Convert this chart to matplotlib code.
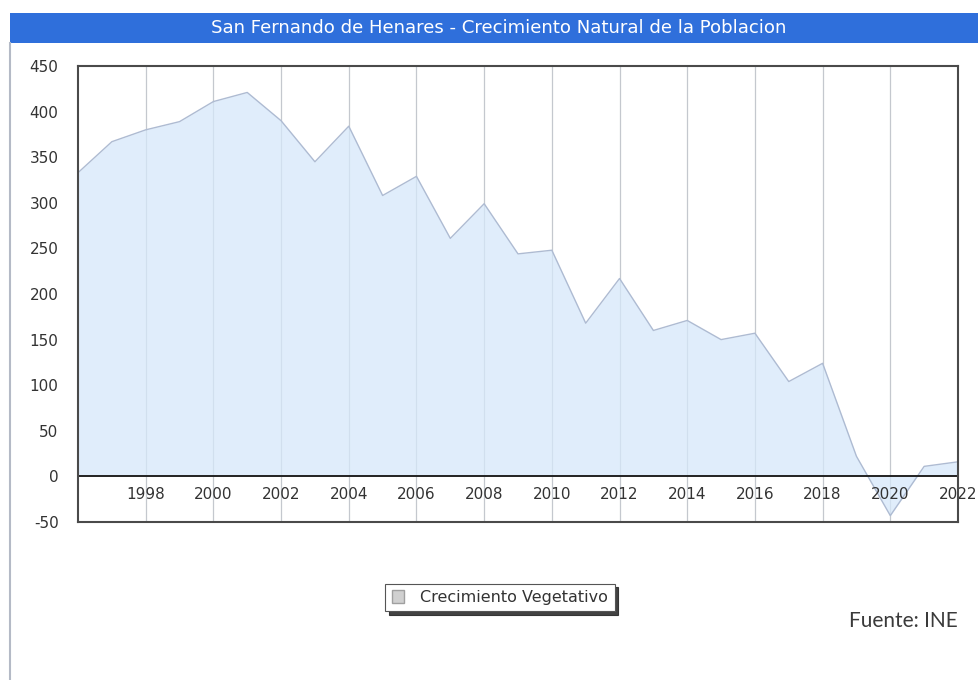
import matplotlib
matplotlib.use("Agg")
import matplotlib.pyplot as plt
from matplotlib.patches import Rectangle, Patch
from matplotlib.lines import Line2D

years = list(range(1996, 2023))
crecimiento = [333, 367, 380, 389, 411, 421, 390, 345, 384, 308, 329, 261, 299, 244,
               248, 168, 217, 160, 171, 150, 157, 104, 124, 22, -43, 11, 16]
xtick_years = list(range(1998, 2023, 2))
yticks = list(range(-50, 451, 50))
title = "San Fernando de Henares - Crecimiento Natural de la Poblacion"
series_label = "Crecimiento Vegetativo"
source = "Fuente: INE"

W, H = 979, 680
fig = plt.figure(figsize=(W / 100, H / 100), dpi=100)
fig.patch.set_facecolor("white")

# title bar
fig.patches.append(Rectangle((10 / W, 1 - 43 / H), 1 - 10 / W, 30 / H,
                             transform=fig.transFigure, facecolor="#2F6FDB",
                             edgecolor="none", zorder=0))
fig.text(0.509, 1 - 28 / H, title, color="white", ha="center", va="center",
         fontsize=13.1, fontfamily="DejaVu Sans")
# left border
fig.lines.append(Line2D([10 / W, 10 / W], [0, 1 - 43 / H], transform=fig.transFigure,
                        color="#B4BAC6", lw=1.5))

ax = fig.add_axes([78 / W, 1 - 522 / H, 880 / W, 456 / H])
ax.set_xlim(1996, 2022)
ax.set_ylim(-50, 450)

for yr in xtick_years:
    ax.axvline(yr, color="#C4C8CE", lw=0.9, zorder=1)

ax.fill_between(years, crecimiento, 0, color="#D6E8FA", alpha=0.75, lw=0,
                zorder=2, label=series_label)
ax.plot(years, crecimiento, color="#AEBBD2", lw=1.0, zorder=3)
ax.axhline(0, color="#222222", lw=1.4, zorder=4)

ax.set_yticks(yticks)
ax.set_yticklabels([str(v) for v in yticks], fontsize=11, color="#333333",
                   fontfamily="DejaVu Sans")
ax.tick_params(axis="y", length=0, pad=14)
ax.set_xticks([])
for yr in xtick_years:
    ax.text(yr, -20, str(yr), ha="center", va="center", fontsize=11,
            color="#333333", zorder=3, clip_on=False, fontfamily="DejaVu Sans")

for s in ax.spines.values():
    s.set_color("#4A4A4A")
    s.set_linewidth(1.5)
    s.set_zorder(6)

handle = Patch(facecolor="#D0D0D0", edgecolor="#A0A0A0")
leg = fig.legend([handle], [series_label], loc="center",
                 bbox_to_anchor=(500 / W, 1 - 597.5 / H), bbox_transform=fig.transFigure,
                 prop={"family": "DejaVu Sans", "size": 11.5},
                 frameon=True, fancybox=False,
                 shadow={"color": "#222222", "alpha": 0.85, "ox": 2.5, "oy": -2.5},
                 handlelength=0.8, handleheight=0.8, handletextpad=1.0,
                 borderpad=0.4, borderaxespad=0)
leg.get_frame().set_edgecolor("#555555")
leg.get_frame().set_linewidth(0.8)
for t in leg.get_texts():
    t.set_color("#333333")

fig.text(958 / W, 1 - 621 / H, source, ha="right", va="center", fontsize=15,
         color="#3A3A3A", fontfamily="Lato", fontweight="normal")

fig.savefig("out.png", dpi=100)
